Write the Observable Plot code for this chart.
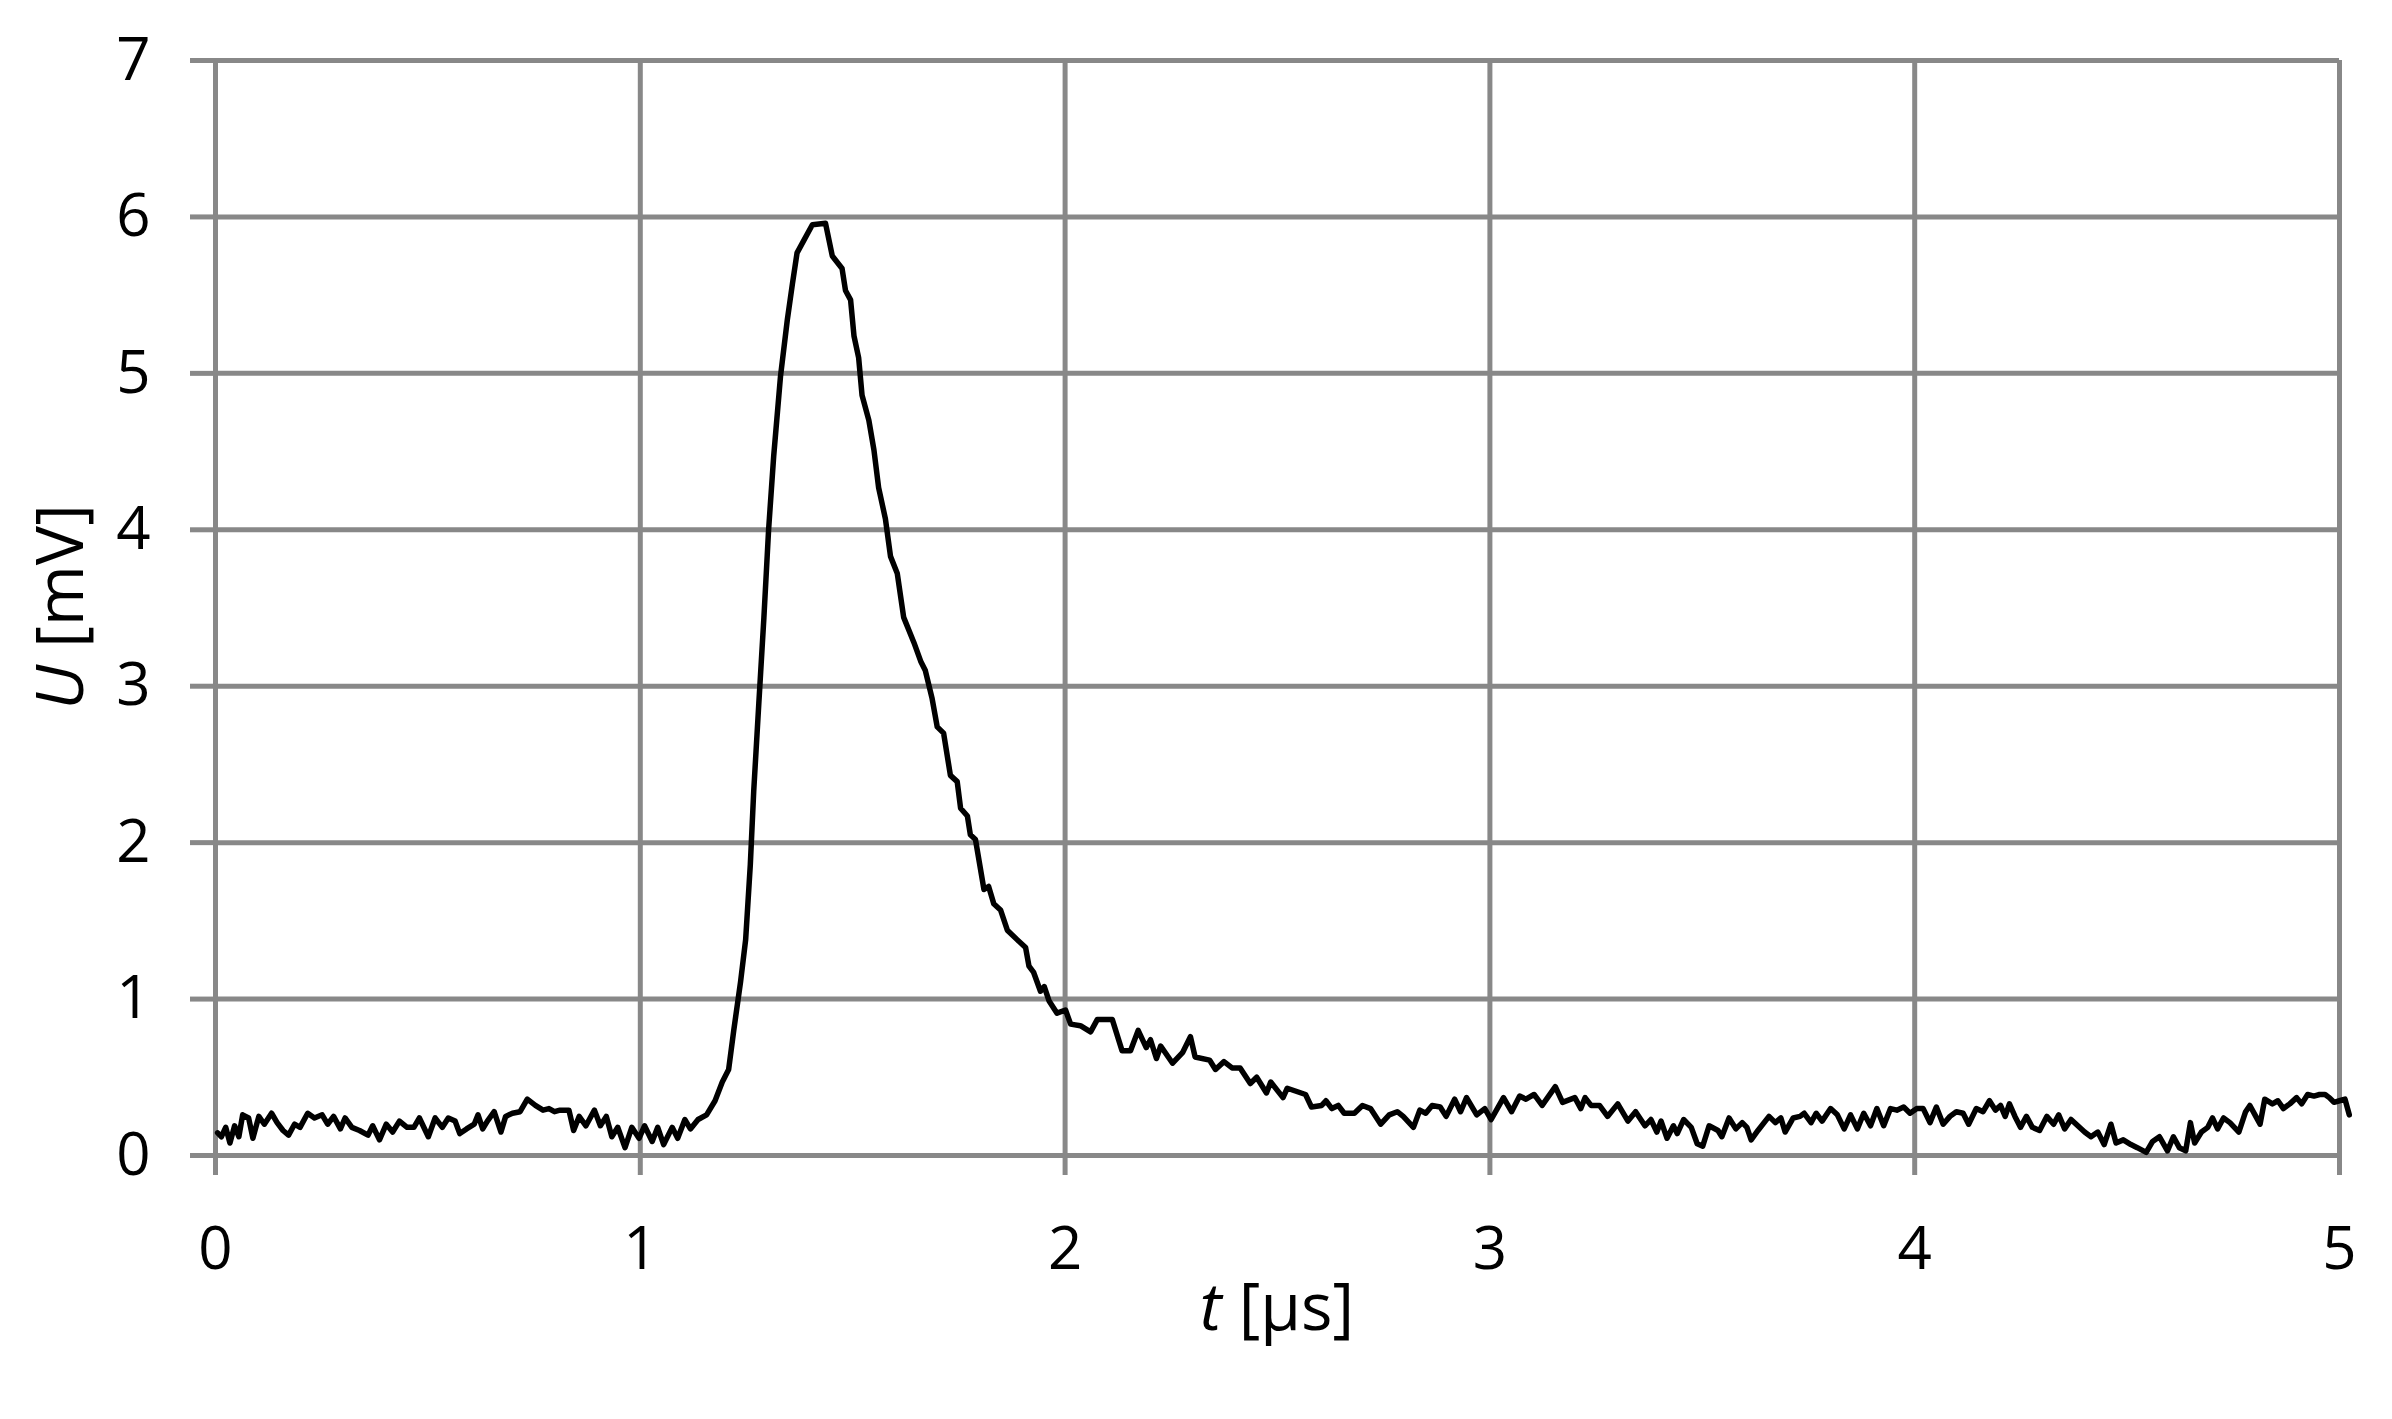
<!DOCTYPE html>
<html><head><meta charset="utf-8">
<script src="https://cdn.jsdelivr.net/npm/d3@7"></script>
<script src="https://cdn.jsdelivr.net/npm/@observablehq/plot@0.6"></script>
<style>body{margin:0;background:#fff} #chart svg{display:block}</style>
</head><body><div id="chart"></div>
<script>
// time in microseconds
const tValues = [
0.005,0.014,0.024,0.034,0.045,0.055,0.064,0.078,0.088,0.102,0.115,0.132,0.145,0.159,0.172,0.186,0.199,0.217,0.233,0.251,
0.264,0.278,0.294,0.305,0.321,0.339,0.359,0.370,0.386,0.402,0.417,0.433,0.451,0.467,0.480,0.501,0.517,0.534,0.548,0.564,
0.575,0.591,0.609,0.618,0.629,0.640,0.656,0.672,0.683,0.699,0.717,0.734,0.753,0.771,0.785,0.798,0.811,0.832,0.843,0.856,
0.872,0.892,0.906,0.920,0.933,0.947,0.964,0.980,0.997,1.010,1.028,1.041,1.055,1.075,1.088,1.105,1.118,1.136,1.156,1.176,
1.193,1.208,1.220,1.236,1.248,1.259,1.267,1.279,1.291,1.302,1.314,1.330,1.346,1.358,1.369,1.385,1.405,1.436,1.452,1.475,
1.483,1.495,1.503,1.514,1.522,1.538,1.550,1.561,1.577,1.589,1.605,1.620,1.644,1.660,1.671,1.687,1.699,1.714,1.730,1.746,
1.754,1.770,1.777,1.789,1.809,1.820,1.832,1.848,1.864,1.887,1.907,1.915,1.926,1.942,1.951,1.962,1.981,2.001,2.013,2.036,
2.060,2.076,2.111,2.134,2.154,2.172,2.191,2.201,2.215,2.225,2.253,2.277,2.295,2.306,2.340,2.354,2.374,2.393,2.412,2.436,
2.451,2.474,2.484,2.513,2.523,2.566,2.580,2.604,2.614,2.628,2.643,2.657,2.681,2.700,2.719,2.743,2.763,2.782,2.796,2.820,
2.835,2.849,2.864,2.883,2.897,2.917,2.931,2.945,2.969,2.988,3.003,3.032,3.051,3.070,3.085,3.104,3.123,3.154,3.171,3.200,
3.214,3.224,3.238,3.258,3.277,3.301,3.325,3.343,3.365,3.379,3.393,3.403,3.417,3.432,3.441,3.456,3.474,3.488,3.501,3.516,
3.537,3.546,3.563,3.579,3.594,3.605,3.615,3.631,3.657,3.672,3.685,3.695,3.714,3.730,3.740,3.756,3.768,3.782,3.802,3.818,
3.834,3.849,3.865,3.880,3.896,3.911,3.927,3.943,3.958,3.974,3.989,4.005,4.020,4.036,4.051,4.067,4.083,4.098,4.114,4.127,
4.145,4.161,4.176,4.190,4.202,4.213,4.223,4.236,4.249,4.263,4.277,4.294,4.311,4.327,4.339,4.353,4.368,4.384,4.400,4.415,
4.431,4.446,4.462,4.474,4.491,4.509,4.524,4.545,4.560,4.576,4.595,4.609,4.623,4.638,4.649,4.659,4.675,4.690,4.701,4.713,
4.727,4.742,4.763,4.779,4.789,4.803,4.813,4.824,4.842,4.855,4.868,4.883,4.899,4.911,4.925,4.940,4.953,4.966,4.976,4.987,
5.000,5.013,5.023
];
// voltage in mV
const uValues = [
0.145,0.12,0.18,0.08,0.19,0.12,0.26,0.24,0.11,0.25,0.20,0.27,0.21,0.16,0.13,0.20,0.18,0.27,0.24,0.26,
0.20,0.25,0.17,0.24,0.18,0.16,0.13,0.19,0.10,0.20,0.15,0.22,0.18,0.18,0.24,0.12,0.24,0.18,0.24,0.22,
0.14,0.17,0.20,0.26,0.17,0.22,0.28,0.15,0.25,0.27,0.28,0.36,0.32,0.29,0.30,0.28,0.29,0.29,0.16,0.25,
0.19,0.29,0.19,0.25,0.12,0.18,0.05,0.18,0.11,0.19,0.09,0.18,0.07,0.18,0.11,0.23,0.17,0.23,0.26,0.35,
0.47,0.55,0.80,1.11,1.38,1.86,2.33,2.89,3.44,4.00,4.47,4.98,5.34,5.57,5.77,5.85,5.95,5.96,5.75,5.67,
5.53,5.47,5.24,5.10,4.86,4.70,4.51,4.27,4.07,3.83,3.72,3.44,3.28,3.16,3.10,2.92,2.74,2.70,2.43,2.39,
2.22,2.17,2.05,2.02,1.70,1.72,1.61,1.57,1.44,1.38,1.33,1.21,1.17,1.05,1.08,0.99,0.91,0.93,0.84,0.83,
0.79,0.87,0.87,0.67,0.67,0.80,0.69,0.74,0.62,0.70,0.59,0.66,0.76,0.63,0.61,0.55,0.60,0.56,0.56,0.46,
0.50,0.40,0.47,0.37,0.43,0.39,0.31,0.32,0.35,0.30,0.32,0.27,0.27,0.32,0.30,0.20,0.26,0.28,0.25,0.18,
0.29,0.27,0.32,0.31,0.25,0.36,0.28,0.37,0.26,0.30,0.23,0.37,0.28,0.38,0.36,0.39,0.32,0.44,0.34,0.37,
0.30,0.37,0.32,0.32,0.25,0.33,0.22,0.28,0.19,0.23,0.15,0.22,0.11,0.19,0.14,0.23,0.18,0.075,0.06,0.19,
0.16,0.12,0.24,0.17,0.21,0.18,0.10,0.16,0.25,0.21,0.24,0.15,0.24,0.25,0.27,0.21,0.27,0.22,0.30,0.26,
0.17,0.26,0.17,0.27,0.19,0.30,0.19,0.30,0.29,0.31,0.27,0.30,0.30,0.21,0.31,0.20,0.25,0.28,0.27,0.20,
0.30,0.28,0.35,0.29,0.32,0.25,0.33,0.25,0.18,0.25,0.18,0.16,0.25,0.20,0.26,0.17,0.23,0.19,0.15,0.12,
0.15,0.07,0.20,0.08,0.10,0.07,0.05,0.02,0.09,0.12,0.03,0.12,0.05,0.03,0.21,0.08,0.15,0.18,0.24,0.17,
0.24,0.21,0.15,0.28,0.32,0.25,0.20,0.36,0.33,0.35,0.30,0.33,0.37,0.33,0.39,0.38,0.39,0.39,0.37,0.34,
0.35,0.36,0.26
];
const xTicks = [0, 1, 2, 3, 4, 5];
const yTicks = [0, 1, 2, 3, 4, 5, 6, 7];
const xTitle = ["t", " [μs]"];
const yTitle = ["U", " [mV]"];

const data = tValues.map((t, i) => ({t, U: uValues[i]}));
const gridColor = "#888888";

const plot = Plot.plot({
  width: 2392,
  height: 1419,
  marginLeft: 215,
  marginRight: 53,
  marginTop: 60,
  marginBottom: 264,
  style: {fontFamily: "'Open Sans', sans-serif", fontSize: "60px", background: "#ffffff", color: "#000000", overflow: "visible"},
  x: {domain: [0, 5], ticks: xTicks},
  y: {domain: [0, 7], ticks: yTicks},
  marks: [
    Plot.gridX(xTicks, {stroke: gridColor, strokeOpacity: 1, strokeWidth: 5}),
    Plot.gridY(yTicks, {stroke: gridColor, strokeOpacity: 1, strokeWidth: 5}),
    Plot.axisX(xTicks, {tickSize: 20, tickPadding: 51, stroke: gridColor, strokeWidth: 5, fill: "#000", label: null, fontSize: 60, tickFormat: d => String(d)}),
    Plot.axisY(yTicks, {tickSize: 25, tickPadding: 40, stroke: gridColor, strokeWidth: 5, fill: "#000", label: null, fontSize: 60, tickFormat: d => String(d)}),
    Plot.line(data, {x: "t", y: "U", stroke: "#000", strokeWidth: 5.5, strokeLinejoin: "round", strokeLinecap: "round"})
  ]
});

const svg = d3.select(plot);
const xt = svg.append("text")
  .attr("x", 1277).attr("y", 1330)
  .attr("text-anchor", "middle")
  .attr("font-size", 66).attr("fill", "#000");
xt.append("tspan").attr("font-style", "italic").text(xTitle[0]);
xt.append("tspan").text(xTitle[1]);

const yt = svg.append("text")
  .attr("transform", "translate(83,607) rotate(-90)")
  .attr("text-anchor", "middle")
  .attr("font-size", 66).attr("fill", "#000");
yt.append("tspan").attr("font-style", "italic").text(yTitle[0]);
yt.append("tspan").text(yTitle[1]);

document.getElementById("chart").appendChild(plot);
</script>
</body></html>
